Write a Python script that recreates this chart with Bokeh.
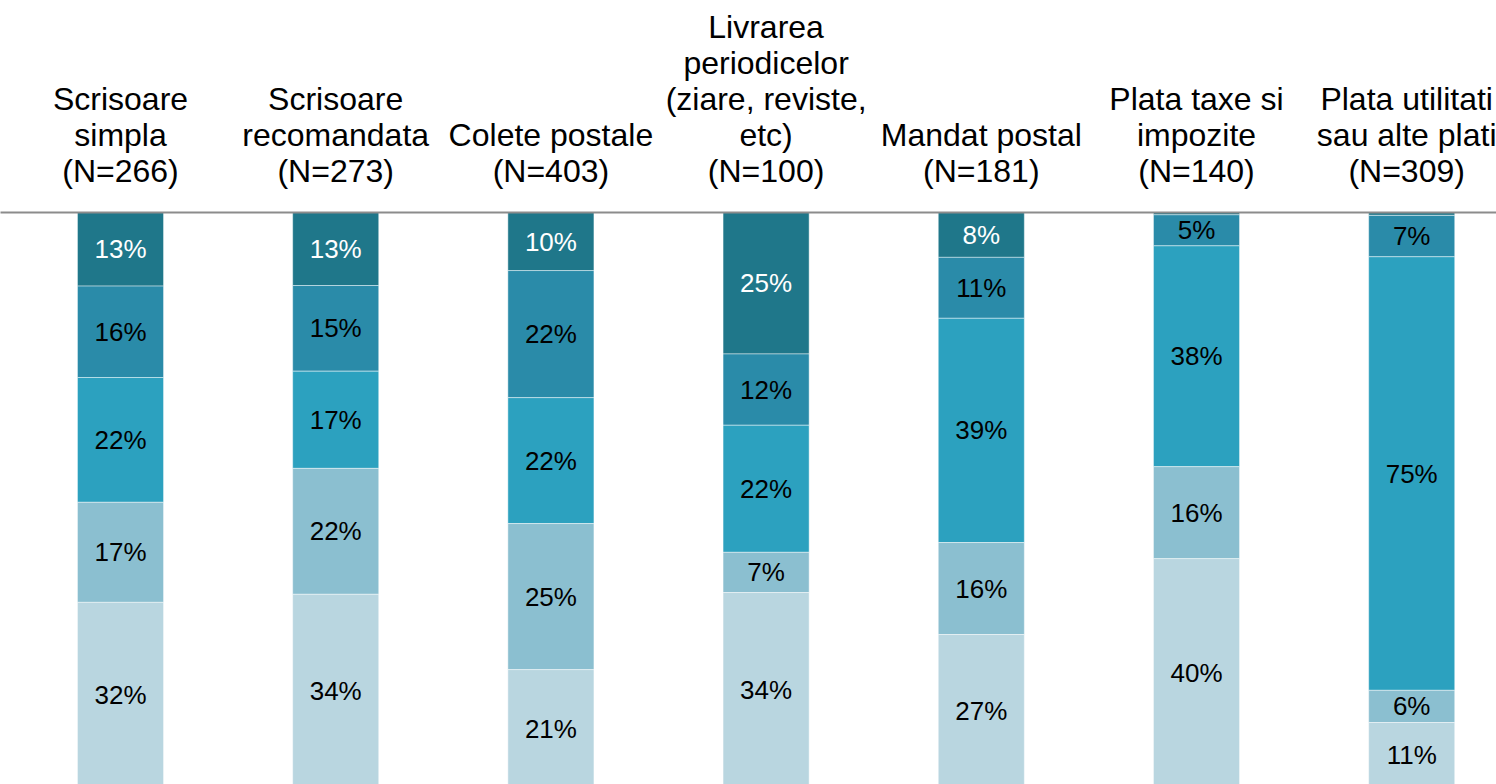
import numpy as np
from bokeh.plotting import figure
from bokeh.models import ColumnDataSource, Range1d, LinearAxis, FixedTicker
from bokeh.core.properties import value
from bokeh.embed import file_html
from bokeh.resources import INLINE

categories = [
    "Scrisoare\nsimpla\n(N=266)",
    "Scrisoare\nrecomandata\n(N=273)",
    "Colete postale\n(N=403)",
    "Livrarea\nperiodicelor\n(ziare, reviste,\netc)\n(N=100)",
    "Mandat postal\n(N=181)",
    "Plata taxe si\nimpozite\n(N=140)",
    "Plata utilitati\nsau alte plati\n(N=309)",
]

# segments listed from the top of each bar downwards
seg1 = [12.8, 12.7, 10.1, 24.6, 7.8, 0.4, 0.5]
seg2 = [15.9, 14.9, 22.1, 12.4, 10.6, 5.4, 7.2]
seg3 = [21.7, 16.9, 21.9, 22.1, 39.0, 38.4, 75.4]
seg4 = [17.4, 21.9, 25.4, 7.0, 16.0, 16.0, 5.6]
seg5 = [32.2, 33.6, 20.7, 33.9, 26.6, 39.8, 11.2]

series = [seg1, seg2, seg3, seg4, seg5]
colors = ["#1F778A", "#2A8BA9", "#2CA1BF", "#8BBFD0", "#B9D6E0"]
label_colors = ["#FFFFFF", "#000000", "#000000", "#000000", "#000000"]

xs = np.arange(len(categories))
step = 215.2
W, H = 1496, 784
top_border = 212
x0 = -120 / step

p = figure(width=W, height=H, output_backend="svg", toolbar_location=None,
           x_range=Range1d(x0, x0 + W / step),
           y_range=Range1d((H - top_border) / 5.75, 0),
           min_border_left=0, min_border_right=0,
           min_border_top=top_border, min_border_bottom=0,
           x_axis_location=None, y_axis_location=None)
p.outline_line_color = None
p.xgrid.visible = False
p.ygrid.visible = False
p.background_fill_color = "white"
p.border_fill_color = "white"

ax = LinearAxis(ticker=FixedTicker(ticks=list(xs)))
ax.major_label_overrides = {int(i): c for i, c in zip(xs, categories)}
ax.major_label_text_font = "Liberation Sans"
ax.major_label_text_font_size = "32px"
ax.major_label_text_color = "#000000"
ax.major_label_text_line_height = 1.0
ax.major_label_standoff = 18
ax.major_tick_line_color = None
ax.minor_tick_line_color = None
ax.axis_line_color = "#8C8C8C"
ax.axis_line_width = 2
p.add_layout(ax, "above")

cum = np.zeros(len(categories))
for vals, col, lcol in zip(series, colors, label_colors):
    v = np.array(vals)
    bottom = cum.copy()
    top = cum + v
    mid = (bottom + top) / 2
    labels = [f"{int(round(x))}%" if round(x) >= 1 else "" for x in v]
    src = ColumnDataSource(dict(x=xs, bottom=bottom, top=top, mid=mid, label=labels))
    p.vbar(x="x", width=0.4, bottom="bottom", top="top", source=src,
           fill_color=col, line_color="white", line_alpha=0.45, line_width=1)
    p.text(x="x", y="mid", text="label", source=src,
           text_align="center", text_baseline="middle",
           text_font=value("Liberation Sans"), text_font_size="26px",
           text_color=lcol)
    cum = top

open("out.html", "w").write(file_html(p, INLINE))
